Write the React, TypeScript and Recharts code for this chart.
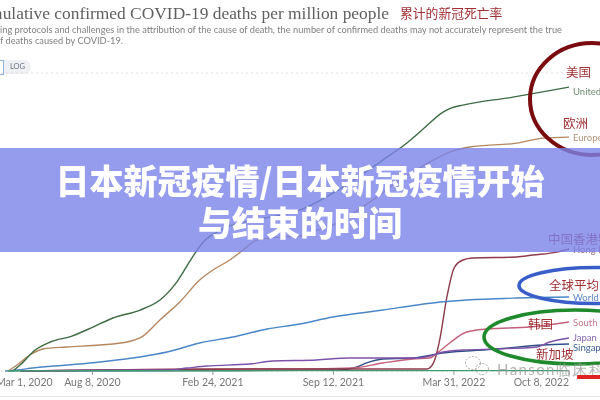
import { CartesianGrid, Line, LineChart, XAxis, YAxis } from "recharts";

type Pair = [number, number];

// [days since Mar 1 2020, confirmed deaths per million]
const unitedStates: Pair[] = [
  [28, 0], [40, 66], [65, 232], [90, 321], [126, 387], [161, 487], [194, 587], [239, 675],
  [272, 786], [300, 985], [325, 1251], [347, 1450], [367, 1539], [388, 1605], [438, 1683],
  [504, 1782], [576, 2037], [642, 2336], [682, 2524], [707, 2668], [742, 2867], [755, 2911],
  [775, 2945], [858, 3033], [886, 3066], [951, 3144],
];
const europe: Pair[] = [
  [20, 0], [35, 66], [56, 177], [78, 244], [118, 266], [173, 288], [217, 321], [244, 387],
  [272, 565], [305, 764], [338, 1007], [360, 1118], [388, 1229], [410, 1339], [433, 1450],
  [471, 1483], [504, 1494], [529, 1550], [559, 1616], [625, 1893], [670, 2114], [720, 2314],
  [753, 2424], [786, 2480], [864, 2524], [908, 2579], [951, 2590],
];
const world: Pair[] = [
  [15, 0], [35, 11], [61, 33], [118, 66], [173, 100], [239, 155], [284, 210], [338, 310],
  [393, 376], [450, 465], [504, 520], [559, 598], [642, 675], [699, 731], [737, 764],
  [781, 786], [864, 808], [951, 819],
];
const hongKong: Pair[] = [
  [40, 0], [173, 11], [504, 22], [670, 22], [715, 22], [723, 55], [728, 122], [737, 365],
  [748, 808], [761, 1151], [775, 1229], [791, 1251], [864, 1262], [891, 1284], [931, 1317],
  [951, 1351],
];
const japan: Pair[] = [
  [40, 0], [173, 10], [284, 11], [317, 33], [350, 55], [421, 77], [459, 111], [532, 122],
  [587, 144], [699, 144], [720, 166], [742, 210], [775, 232], [831, 244], [898, 266],
  [919, 321], [951, 365],
];
const southKorea: Pair[] = [
  [40, 0], [173, 11], [338, 22], [504, 22], [592, 33], [642, 89], [692, 133], [720, 144],
  [732, 199], [753, 310], [781, 432], [815, 465], [886, 487], [951, 542],
];
const singapore: Pair[] = [
  [40, 0], [338, 5], [570, 11], [599, 44], [615, 89], [642, 133], [692, 144], [742, 199],
  [831, 244], [908, 288], [951, 299],
];
const china: Pair[] = [[20, 0], [60, 3], [951, 4]];

const tickDays = [0, 160, 360, 560, 760, 951];
const tickLabels = ["Mar 1, 2020", "Aug 8, 2020", "Feb 24, 2021", "Sep 12, 2021", "Mar 31, 2022", "Oct 8, 2022"];
const yTicks = [0, 500, 1000, 1500, 2000, 2500, 3000];

const series: { name: string; color: string; points: Pair[] }[] = [
  { name: "Singapore", color: "#2f4f86", points: singapore },
  { name: "South Korea", color: "#c4607c", points: southKorea },
  { name: "Hong Kong", color: "#8c3a4c", points: hongKong },
  { name: "Japan", color: "#7d52a8", points: japan },
  { name: "World", color: "#4a86c8", points: world },
  { name: "Europe", color: "#b5875f", points: europe },
  { name: "United States", color: "#3e6b42", points: unitedStates },
  { name: "China", color: "#3f9a70", points: china },
];

const lato = "Lato, sans-serif";
const cjk = '"Noto Sans CJK SC", sans-serif';
const noteRed = "#a03034";

function toRows(points: Pair[]) {
  return points.map(([day, value]) => ({ day, value }));
}

function DateTick({ x, payload }: any) {
  const i = tickDays.indexOf(payload.value);
  const anchor = i === 0 ? "start" : i === tickDays.length - 1 ? "end" : "middle";
  return (
    <g>
      <line x1={x} x2={x} y1={371} y2={375} stroke="#999" />
      <text x={x} y={386} textAnchor={anchor} fontFamily={lato} fontSize={10.5} fill="#777">
        {tickLabels[i]}
      </text>
    </g>
  );
}

function Note({ x, y, children }: { x: number; y: number; children: string }) {
  return (
    <text x={x} y={y} fontFamily={cjk} fontSize={12.5} fill={noteRed} dominantBaseline="central">
      {children}
    </text>
  );
}

function EndLabel({ y, color, children }: { y: number; color: string; children: string }) {
  return (
    <text x={573} y={y} fontFamily={lato} fontSize={9.5} fill={color} dominantBaseline="central">
      {children}
    </text>
  );
}

export default function App() {
  return (
    <div
      style={{
        position: "fixed",
        left: 0,
        top: 0,
        width: 600,
        height: 400,
        overflow: "hidden",
        background: "#fff",
        filter: "blur(0.45px)",
      }}
    >
      {/* header, cropped on the left like the screenshot */}
      <div
        style={{
          position: "absolute",
          right: 211,
          top: 3,
          whiteSpace: "nowrap",
          fontFamily: '"Liberation Serif", serif',
          fontSize: 17.4,
          color: "#5f5f5f",
        }}
      >
        Cumulative confirmed COVID-19 deaths per million people
      </div>
      <div
        style={{
          position: "absolute",
          right: 38,
          top: 24,
          whiteSpace: "nowrap",
          fontFamily: lato,
          fontSize: 9.25,
          color: "#808080",
        }}
      >
        Due to varying protocols and challenges in the attribution of the cause of death, the number of confirmed deaths may not accurately represent the true
      </div>
      <div
        style={{
          position: "absolute",
          right: 477,
          top: 35,
          whiteSpace: "nowrap",
          fontFamily: lato,
          fontSize: 9.25,
          color: "#808080",
        }}
      >
        number of deaths caused by COVID-19.
      </div>
      <div
        style={{
          position: "absolute",
          left: 4,
          top: 60,
          width: 27,
          height: 14,
          borderRadius: "0 7px 7px 0",
          background: "#eef0f4",
          fontFamily: lato,
          fontSize: 7.5,
          lineHeight: "14px",
          textAlign: "center",
          color: "#6a7480",
        }}
      >
        LOG
      </div>
      <div
        style={{
          position: "absolute",
          left: 0,
          top: 60,
          width: 3,
          height: 13,
          borderRight: "1px solid #8fb4dc",
          borderTop: "1px solid #8fb4dc",
          borderBottom: "1px solid #8fb4dc",
        }}
      />
      <div
        style={{
          position: "absolute",
          left: 400,
          top: 4,
          fontFamily: cjk,
          fontSize: 12.8,
          lineHeight: "18px",
          whiteSpace: "nowrap",
          color: noteRed,
        }}
      >
        累计的新冠死亡率
      </div>

      <div style={{ position: "absolute", left: -4, top: 0 }}>
        <LineChart width={604} height={400} margin={{ top: 73, right: 31, bottom: 0, left: 0 }}>
          <CartesianGrid vertical={false} stroke="#dedede" strokeDasharray="2 3" />
          <XAxis
            type="number"
            dataKey="day"
            domain={[0, 951]}
            ticks={tickDays}
            interval={0}
            tick={<DateTick />}
            tickLine={false}
            axisLine={false}
            height={29}
          />
          <YAxis
            type="number"
            width={0}
            domain={[0, 3300]}
            ticks={yTicks}
            tick={false}
            tickLine={false}
            axisLine={false}
          />
          {series.map((s) => (
            <Line
              key={s.name}
              data={toRows(s.points)}
              dataKey="value"
              name={s.name}
              type="monotone"
              stroke={s.color}
              strokeWidth={1.4}
              dot={false}
              isAnimationActive={false}
            />
          ))}
        </LineChart>
      </div>

      {/* hand drawn rings and notes on the screenshot */}
      <svg width={600} height={400} style={{ position: "absolute", left: 0, top: 0 }}>
        <ellipse cx={592} cy={99} rx={62} ry={56} fill="none" stroke="#7a0c10" strokeWidth={4} />
        <ellipse cx={595} cy={285.5} rx={76} ry={18} fill="none" stroke="#3a5ec8" strokeWidth={3.6} />
        <ellipse cx={575} cy={337} rx={91} ry={27} fill="none" stroke="#1f8a2c" strokeWidth={3.6} />
        <Note x={566} y={71}>美国</Note>
        <Note x={563} y={122}>欧洲</Note>
        <Note x={548} y={238}>中国香港特</Note>
        <Note x={549} y={284}>全球平均</Note>
        <Note x={528} y={323}>韩国</Note>
        <Note x={536} y={353}>新加坡</Note>
        <EndLabel y={91} color="#6f8f72">United States</EndLabel>
        <EndLabel y={137} color="#b3957a">Europe</EndLabel>
        <EndLabel y={249} color="#9a6a78">Hong Kong</EndLabel>
        <EndLabel y={297} color="#5c84c4">World</EndLabel>
        <EndLabel y={322} color="#c9778f">South Korea</EndLabel>
        <EndLabel y={337} color="#8463b4">Japan</EndLabel>
        <EndLabel y={347} color="#3f5f92">Singapore</EndLabel>
        {/* watermark */}
        <g fill="none" stroke="#aaa" strokeWidth={1} strokeDasharray="2 1.5">
          <ellipse cx={473} cy={363} rx={7.5} ry={6.5} />
          <ellipse cx={482} cy={369} rx={6.5} ry={5.5} />
        </g>
        <text x={497} y={375} fontFamily={lato} fontSize={15} letterSpacing={1.4} fill="#999" fillOpacity={0.75}>
          Hanson临床科
        </text>
        <rect x={577} y={375} width={23} height={4} fill="#e02424" />
      </svg>
      <div
        style={{
          position: "absolute",
          left: 0,
          top: 396,
          width: 600,
          height: 1,
          background: "#e6e6e6",
        }}
      />

      {/* title banner */}
      <div
        style={{
          position: "absolute",
          left: 0,
          top: 148,
          width: 600,
          height: 104,
          background: "rgba(122,131,232,0.8)",
          color: "#fff",
          fontFamily: cjk,
          fontWeight: 900,
          fontSize: 34,
          lineHeight: "42px",
          textAlign: "center",
          paddingTop: 11,
          boxSizing: "border-box",
        }}
      >
        日本新冠疫情/日本新冠疫情开始
        <br />
        与结束的时间
      </div>
    </div>
  );
}
